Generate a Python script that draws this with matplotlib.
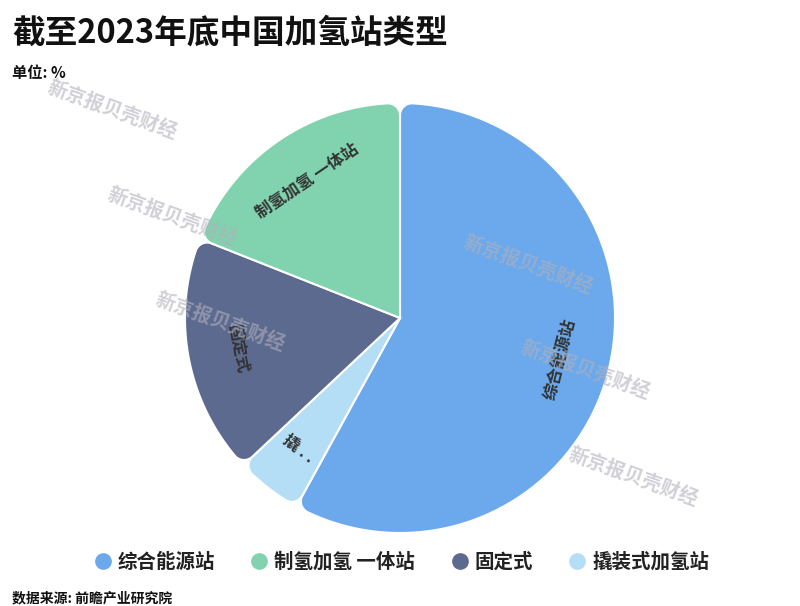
import numpy as np
import matplotlib
matplotlib.use('Agg')
import matplotlib.pyplot as plt
from matplotlib.patches import Polygon
from matplotlib.lines import Line2D

plt.rcParams['font.family'] = ['Noto Sans CJK SC', 'DejaVu Sans']

# 数据
names = ['综合能源站', '制氢加氢 一体站', '固定式', '撬装式加氢站']
labels = ['综合能源站', '制氢加氢 一体站', '固定式', '撬 . .']
values = [58, 19, 18, 5]
colors = ['#6ba9ec', '#80d3ae', '#5d6a90', '#b4ddf6']
slice_order = [0, 3, 2, 1]  # 顺时针绘制顺序
title = '截至2023年底中国加氢站类型'
unit = '单位: %'
source = '数据来源: 前瞻产业研究院'
watermark = '新京报贝壳财经'

W, H = 800, 606
fig = plt.figure(figsize=(W / 100, H / 100), dpi=100)
ax = fig.add_axes([0, 0, 1, 1])
ax.set_xlim(0, W)
ax.set_ylim(0, H)
ax.set_aspect('equal')
ax.axis('off')

cx, cy, R, rc = 400, H - 318, 215, 12


def u(deg):
    t = np.radians(deg)
    return np.array([np.cos(t), np.sin(t)])


def rounded_wedge(t1, t2):
    a = np.degrees(np.arcsin(rc / (R - rc)))
    c1 = (R - rc) * u(t1 + a)
    c2 = (R - rc) * u(t2 - a)
    pts = [np.zeros(2), (R - rc) * np.cos(np.radians(a)) * u(t1)]
    pts += [c1 + rc * u(t) for t in np.linspace(t1 - 90, t1 + a, 20)]
    pts += [R * u(t) for t in np.linspace(t1 + a, t2 - a, 200)]
    pts += [c2 + rc * u(t) for t in np.linspace(t2 - a, t2 + 90, 20)]
    pts += [(R - rc) * np.cos(np.radians(a)) * u(t2)]
    return np.array(pts) + np.array([cx, cy])


total = sum(values)
start = 0
for i in slice_order:
    v = values[i]
    t2 = 90 - start / total * 360
    t1 = 90 - (start + v) / total * 360
    start += v
    ax.add_patch(Polygon(rounded_wedge(t1, t2), closed=True, facecolor=colors[i],
                         edgecolor='white', linewidth=1.5, zorder=2))
    mid = (t1 + t2) / 2
    pos = np.array([cx, cy]) + 0.77 * R * u(mid)
    rot = mid - 90
    while rot > 90:
        rot -= 180
    while rot <= -90:
        rot += 180
    ax.text(pos[0], pos[1], labels[i], rotation=rot, rotation_mode='anchor',
            ha='center', va='center', fontsize=12, fontweight='bold',
            color='#333333', zorder=3)

# 水印
wm_pos = [(112, 110), (172, 217), (220, 322), (528, 265), (585, 370), (633, 477)]
for x, y in wm_pos:
    ax.text(x, H - y, watermark, rotation=-20, ha='center', va='center',
            fontsize=14, fontweight='heavy', color='#b0b0bc', alpha=0.6,
            zorder=4)

# 标题
ax.text(12, H - 33, title, ha='left', va='center', fontsize=23.5,
        fontweight='heavy', color='#111111')
ax.text(12, H - 73, unit, ha='left', va='center', fontsize=11,
        fontweight='bold', color='#111111')
ax.text(12, H - 598, source, ha='left', va='center', fontsize=10,
        fontweight='bold', color='#111111')

# 图例
handles = [Line2D([], [], marker='o', linestyle='none', markersize=11,
                  markerfacecolor=c, markeredgecolor=c) for c in colors]
leg = ax.legend(handles, names, loc='center', bbox_to_anchor=(0.5, 1 - 562 / H),
                ncol=4, frameon=False, handletextpad=0.15, columnspacing=1.7,
                handlelength=1.2, prop={'size': 14, 'weight': 'bold'})
for t in leg.get_texts():
    t.set_color('#222222')

fig.savefig('out.png', dpi=100)
